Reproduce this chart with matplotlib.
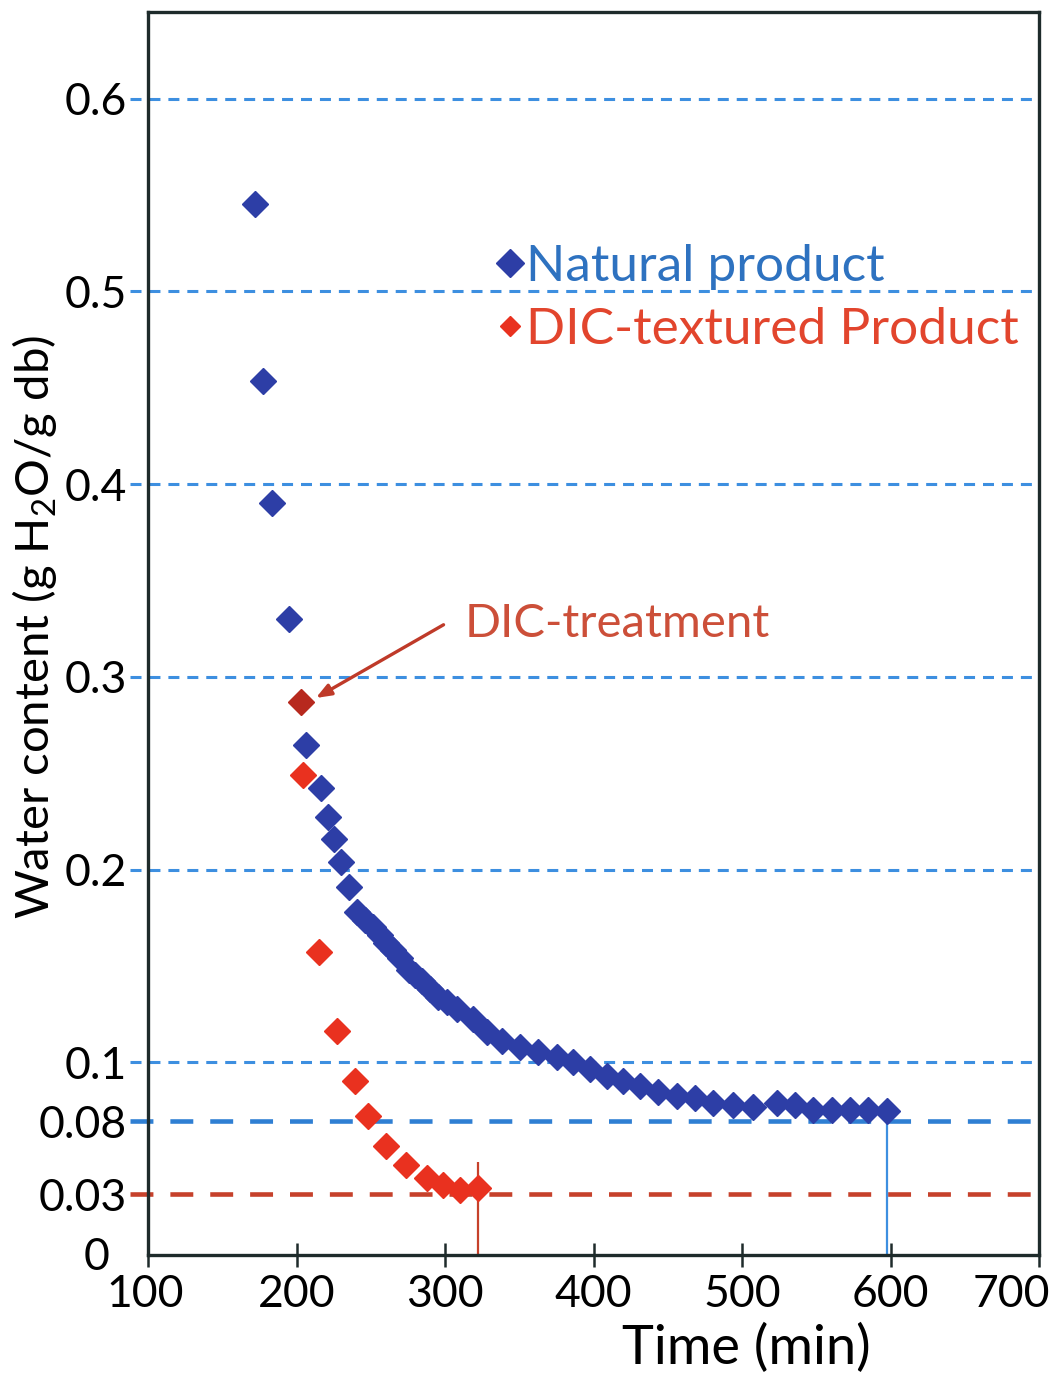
import matplotlib
matplotlib.use("Agg")
import matplotlib.pyplot as plt
from matplotlib.lines import Line2D
from matplotlib.transforms import ScaledTranslation

plt.rcParams['font.family'] = ['Lato', 'DejaVu Sans']
plt.rcParams['mathtext.fontset'] = 'custom'
plt.rcParams['mathtext.rm'] = 'Lato'
plt.rcParams['mathtext.it'] = 'Lato'

# ---- data ----
natural_time = [172, 177.5, 183.5, 195, 206.5, 216.5, 221, 225, 230, 235, 241, 246, 251.5,
                256, 260, 265, 270, 276, 280, 284.5, 290, 295, 301, 308, 318.5, 328, 338.5,
                350.5, 362.5, 375.5, 386, 397.5, 409, 420, 431, 443.5, 456, 468.5, 480.5,
                494, 507.5, 523.5, 535.5, 548, 560.5, 572.5, 585, 597.5]
natural_water = [0.5455, 0.4535, 0.390, 0.330, 0.2647, 0.2425, 0.2275, 0.2156, 0.2037, 0.191,
                 0.178, 0.174, 0.170, 0.166, 0.162, 0.158, 0.154, 0.148, 0.145, 0.142, 0.138,
                 0.134, 0.131, 0.1277, 0.1225, 0.1158, 0.1112, 0.1081, 0.1055, 0.1029, 0.1003,
                 0.0967, 0.0931, 0.0905, 0.0874, 0.0848, 0.0827, 0.0812, 0.0786, 0.0776, 0.0770,
                 0.0786, 0.0776, 0.0750, 0.0750, 0.0750, 0.0750, 0.0745]

dic_time = [203, 204.5, 215, 227, 239.5, 248, 260, 273.5, 288, 298.5, 310, 322]
dic_water = [0.287, 0.249, 0.157, 0.116, 0.090, 0.072, 0.0565, 0.0465, 0.040, 0.0365, 0.0335, 0.0345]

grid_levels = [0.1, 0.2, 0.3, 0.4, 0.5, 0.6]
final_levels = [0.0693, 0.0315]          # drawn positions of the final-content lines
dic_marker_line_top = 0.048

ytick_pos = [0, 0.0315, 0.0693, 0.1, 0.2, 0.3, 0.4, 0.5, 0.6]
ytick_lab = ['0', '0.03', '0.08', '0.1', '0.2', '0.3', '0.4', '0.5', '0.6']
xtick_pos = [100, 200, 300, 400, 500, 600, 700]

# ---- colours ----
c_blue_mk = '#2d3ea6'
c_red_mk = '#e9311f'
c_dred_mk = '#b7291e'
c_grid = '#3d8fe0'
c_blue_line = '#2f7fd3'
c_red_line = '#c6412b'
c_spine = '#1e2b2b'

fig = plt.figure(figsize=(10.56, 13.73), dpi=100)
ax = fig.add_axes([0.1402, 0.0860, 0.8437, 0.9053])
ax.set_xlim(100, 700)
ax.set_ylim(0, 0.645)

for lv in grid_levels:
    ax.axhline(lv, xmin=-0.02, xmax=1, color=c_grid, lw=2.2,
               linestyle=(0, (3.6, 2.6)), clip_on=False, zorder=1)

ax.axhline(final_levels[0], xmin=-0.02, xmax=1, color=c_blue_line, lw=3.3,
           linestyle=(0, (5.0, 3.7)), clip_on=False, zorder=1)
ax.axhline(final_levels[1], xmin=-0.02, xmax=1, color=c_red_line, lw=3.3,
           linestyle=(0, (5.0, 3.7)), clip_on=False, zorder=1)

ax.vlines(natural_time[-1], 0, natural_water[-1], color=c_grid, lw=1.6, zorder=2)
ax.vlines(dic_time[-1], 0, dic_marker_line_top, color=c_red_line, lw=1.6, zorder=2)

ms = 13.5
ax.plot(natural_time, natural_water, linestyle='none', marker='D', ms=ms,
        color=c_blue_mk, mec=c_blue_mk, zorder=3)
ax.plot(dic_time[1:], dic_water[1:], linestyle='none', marker='D', ms=ms,
        color=c_red_mk, mec=c_red_mk, zorder=4)
ax.plot(dic_time[:1], dic_water[:1], linestyle='none', marker='D', ms=ms,
        color=c_dred_mk, mec=c_dred_mk, zorder=4)

ax.annotate('', xy=(213, 0.289), xytext=(299, 0.327),
            arrowprops=dict(arrowstyle='-|>,head_length=0.9,head_width=0.35',
                            color='#bf3a29', lw=2.4, shrinkA=0, shrinkB=0), zorder=5)
ax.text(313.5, 0.3275, 'DIC-treatment', color='#cc4f39', fontsize=34,
        ha='left', va='center')

handles = [Line2D([], [], linestyle='none', marker='D', ms=14, color=c_blue_mk),
           Line2D([], [], linestyle='none', marker='D', ms=10, color=c_red_mk)]
leg = ax.legend(handles, ['Natural product', 'DIC-textured Product'],
                loc='upper left', bbox_to_anchor=(0.392, 0.813), frameon=False,
                fontsize=37, handlelength=0.5, handletextpad=0.05,
                labelspacing=0.32, borderpad=0, borderaxespad=0)
leg.get_texts()[0].set_color('#2e72c0')
leg.get_texts()[1].set_color('#e2452d')

for s in ax.spines.values():
    s.set_color(c_spine)
    s.set_linewidth(2.4)

ax.set_xticks(xtick_pos)
ax.set_xticklabels([str(v) for v in xtick_pos])
ax.tick_params(axis='x', direction='inout', length=17, width=1.8, color=c_spine,
               labelsize=32, pad=5)
ax.set_yticks(ytick_pos)
ax.set_yticklabels(ytick_lab)
ax.tick_params(axis='y', length=0, labelsize=32, pad=15)

xl = ax.get_xticklabels()
xl[-1].set_transform(xl[-1].get_transform() + ScaledTranslation(-0.28, 0, fig.dpi_scale_trans))
xl[0].set_transform(xl[0].get_transform() + ScaledTranslation(-0.03, 0, fig.dpi_scale_trans))
yl = ax.get_yticklabels()
yl[0].set_transform(yl[0].get_transform() + ScaledTranslation(-0.18, 0.01, fig.dpi_scale_trans))

ax.set_xlabel('Time (min)', fontsize=39)
ax.xaxis.set_label_coords(0.672, -0.055)
ax.set_ylabel('Water content (g H$_2$O/g db)', fontsize=34)
ax.yaxis.set_label_coords(-0.1, 0.505)

fig.savefig('out.png', dpi=100)
